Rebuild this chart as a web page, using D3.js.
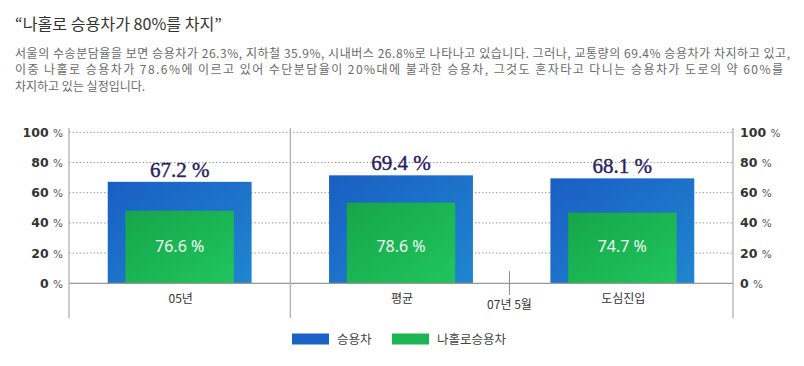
<!DOCTYPE html>
<html><head><meta charset="utf-8">
<script src="https://cdn.jsdelivr.net/npm/d3@7"></script>
<style>body{margin:0;background:#fff}svg{display:block}</style>
</head><body>
<svg id="c" width="804" height="366"></svg>
<script>
const title = "“나홀로 승용차가 80%를 차지”";
const paragraph = [
  "서울의 수송분담율을 보면 승용차가 26.3%, 지하철 35.9%, 시내버스 26.8%로 나타나고 있습니다. 그러나, 교통량의 69.4% 승용차가 차지하고 있고,",
  "이중 나홀로 승용차가 78.6%에 이르고 있어 수단분담율이 20%대에 불과한 승용차, 그것도 혼자타고 다니는 승용차가 도로의 약 60%를",
  "차지하고 있는 실정입니다."
];
const categories = ["05년", "평균", "도심진입"];
const carLabels = ["67.2 %", "69.4 %", "68.1 %"];
const soloLabels = ["76.6 %", "78.6 %", "74.7 %"];
const carShare = [67.2, 71.5, 69.5];      // blue bar heights as drawn (%)
const soloHeight = [48.0, 53.4, 46.8];    // green bar heights as drawn (%)
const yTicks = [0, 20, 40, 60, 80, 100];
const legendItems = ["승용차", "나홀로승용차"];
const markerLabel = "07년 5월";

const svg = d3.select("#c");
const defs = svg.append("defs");
function grad(id, c1, c2) {
  const g = defs.append("linearGradient").attr("id", id)
    .attr("x1", "0%").attr("y1", "0%").attr("x2", "100%").attr("y2", "100%");
  g.append("stop").attr("offset", "0%").attr("stop-color", c1);
  g.append("stop").attr("offset", "100%").attr("stop-color", c2);
}
grad("gBlue", "#1a5ec3", "#1f86cf");
grad("gGreen", "#17a64a", "#1fc55e");

const kr = "'Noto Sans CJK KR', 'Noto Sans', sans-serif";

// Title and paragraph
svg.append("text").attr("x", 15).attr("y", 30).text(title)
  .attr("font-family", kr).attr("font-size", 15.5).attr("fill", "#333")
  .attr("textLength", 207).attr("lengthAdjust", "spacingAndGlyphs");
const pLens = [775, 768, null];
paragraph.forEach((t, i) => {
  const el = svg.append("text").attr("x", 15).attr("y", 57.5 + i * 16.7).text(t)
    .attr("font-family", kr).attr("font-size", 12).attr("fill", "#6a6a6a");
  if (pLens[i]) el.attr("textLength", pLens[i]).attr("lengthAdjust", "spacing");
});

// Scales
const x0 = 69, x1 = 733;
const y = d3.scaleLinear().domain([0, 100]).range([283.3, 132.3]);
const x = d3.scaleBand().domain(categories).range([x0, x1]).padding(0);
const bw = x.bandwidth();

// Gridlines
svg.append("g").selectAll("line").data(yTicks.filter(d => d > 0)).join("line")
  .attr("x1", x0).attr("x2", x1).attr("y1", d => y(d)).attr("y2", d => y(d))
  .attr("stroke", "#9a9a9a").attr("stroke-width", 1).attr("stroke-dasharray", "1.5,2");

// Bars
const g = svg.append("g");
categories.forEach((c, i) => {
  const cx = x(c) + bw / 2;
  const wB = bw * 0.65, wG = bw * 0.49;
  g.append("rect").attr("x", cx - wB / 2).attr("y", y(carShare[i]))
    .attr("width", wB).attr("height", y(0) - y(carShare[i])).attr("fill", "url(#gBlue)");
  g.append("rect").attr("x", cx - wG / 2).attr("y", y(soloHeight[i]))
    .attr("width", wG).attr("height", y(0) - y(soloHeight[i])).attr("fill", "url(#gGreen)");
  g.append("text").attr("x", cx).attr("y", y(carShare[i]) - 5).attr("text-anchor", "middle")
    .text(carLabels[i]).attr("font-family", "'Liberation Serif', serif").attr("font-size", 21)
    .attr("fill", "#2a2160").attr("stroke", "#2a2160").attr("stroke-width", 0.4);
  g.append("text").attr("x", cx).attr("y", y(24.5) + 6).attr("text-anchor", "middle")
    .text(soloLabels[i]).attr("font-family", "'Noto Sans', sans-serif").attr("font-size", 16)
    .attr("fill", "#f2fbf2");
  svg.append("text").attr("x", cx + 1).attr("y", 303).attr("text-anchor", "middle")
    .text(c).attr("font-family", kr).attr("font-size", 12).attr("fill", "#333");
});

// Baseline, axes, divider
svg.append("line").attr("x1", x0).attr("x2", x1).attr("y1", y(0)).attr("y2", y(0))
  .attr("stroke", "#999").attr("stroke-width", 1.2);
[x0, x(categories[1]), x1].forEach(px => {
  svg.append("line").attr("x1", px).attr("x2", px).attr("y1", 128).attr("y2", 318)
    .attr("stroke", "#aaa").attr("stroke-width", 1.2);
});

// 07년 5월 marker
const mx = x(categories[1]) + bw * 0.99;
svg.append("line").attr("x1", mx).attr("x2", mx).attr("y1", y(8)).attr("y2", 295)
  .attr("stroke", "#888").attr("stroke-width", 1);
svg.append("text").attr("x", mx).attr("y", 309).attr("text-anchor", "middle").text(markerLabel)
  .attr("font-family", kr).attr("font-size", 12).attr("fill", "#333");

// Tick labels
function tickLabels(xpos, anchor) {
  const t = svg.append("g").selectAll("text").data(yTicks).join("text")
    .attr("x", xpos).attr("y", d => y(d) + 4.5).attr("text-anchor", anchor)
    .attr("font-family", "'DejaVu Sans', sans-serif").attr("font-size", 12.5)
    .attr("font-weight", "bold").attr("fill", "#333");
  t.append("tspan").text(d => d + " ");
  t.append("tspan").text("%").attr("font-size", 10.5).attr("font-weight", "normal").attr("fill", "#555");
}
tickLabels(63, "end");
tickLabels(740, "start");

// Legend
const legX = [292, 392];
legendItems.forEach((t, i) => {
  svg.append("rect").attr("x", legX[i]).attr("y", 333.5).attr("width", 37).attr("height", 11)
    .attr("fill", i === 0 ? "#1a63c6" : "#1cb655");
  svg.append("text").attr("x", legX[i] + 45).attr("y", 343.5).text(t)
    .attr("font-family", kr).attr("font-size", 12.5).attr("fill", "#444");
});
</script>
</body></html>
